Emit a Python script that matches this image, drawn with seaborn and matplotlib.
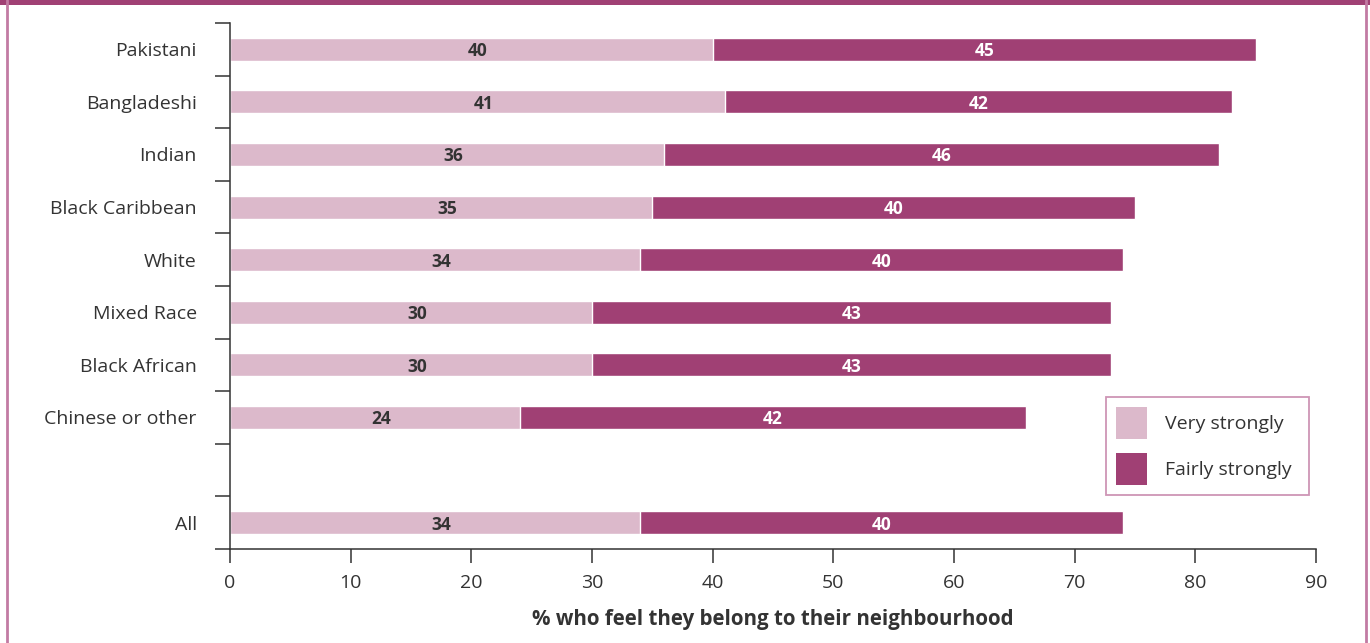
import matplotlib
matplotlib.use("Agg")
import matplotlib.pyplot as plt
import seaborn as sns
import pandas as pd
from matplotlib.patches import Rectangle, Patch
from matplotlib.lines import Line2D

# ---- data ----
categories = ["Pakistani", "Bangladeshi", "Indian", "Black Caribbean", "White",
              "Mixed Race", "Black African", "Chinese or other", "All"]
very_strongly = [40, 41, 36, 35, 34, 30, 30, 24, 34]
fairly_strongly = [45, 42, 46, 40, 40, 43, 43, 42, 40]
order = ["Pakistani", "Bangladeshi", "Indian", "Black Caribbean", "White",
         "Mixed Race", "Black African", "Chinese or other", " ", "All"]
xticks = [0, 10, 20, 30, 40, 50, 60, 70, 80, 90]
xlabel = "% who feel they belong to their neighbourhood"
legend_labels = ["Very strongly", "Fairly strongly"]

LIGHT = "#dcb9cb"
DARK = "#a04074"
FRAME_LIGHT = "#c27ba3"
TEXT = "#333333"

sns.set_theme(style="white")
plt.rcParams["font.family"] = ["Open Sans", "DejaVu Sans"]

df = pd.DataFrame({"cat": categories, "very": very_strongly, "fairly": fairly_strongly})
df["total"] = df["very"] + df["fairly"]

fig = plt.figure(figsize=(13.7, 6.43), dpi=100)
ax = fig.add_axes([230/1370, 1-549/643, (1316-230)/1370, (549-23)/643])

sns.barplot(data=df, y="cat", x="total", order=order, color=DARK, width=0.44,
            saturation=1, ax=ax, orient="h", errorbar=None)
sns.barplot(data=df, y="cat", x="very", order=order, color=LIGHT, width=0.44,
            saturation=1, ax=ax, orient="h", errorbar=None)

ax.set_xlim(0, 90)
ax.set_ylim(len(order) - 0.5, -0.5)
ax.set_xticks(xticks)
ax.set_xticklabels([str(t) for t in xticks], fontsize=14, color=TEXT)
ax.set_yticks(range(len(order)))
ax.set_yticklabels(order, fontsize=14, color=TEXT)
ax.set_yticks([i - 0.5 for i in range(len(order) + 1)], minor=True)
ax.tick_params(axis="y", which="major", left=True, length=0, pad=24)
ax.tick_params(axis="y", which="minor", left=True, length=11, width=1.1,
               color="#333333", direction="out")
ax.tick_params(axis="x", which="major", bottom=True, length=10, width=1.1,
               color="#333333", direction="out", pad=8)
ax.set_ylabel("")
ax.set_xlabel(xlabel, fontsize=14.8, fontweight="bold", color=TEXT, labelpad=12)

for s in ["top", "right"]:
    ax.spines[s].set_visible(False)
for s in ["left", "bottom"]:
    ax.spines[s].set_color("#333333")
    ax.spines[s].set_linewidth(1.1)

# value labels
for c, v, f in zip(categories, very_strongly, fairly_strongly):
    y = order.index(c)
    ax.text(v / 2 + 0.5, y, str(v), ha="center", va="center_baseline", fontsize=12.5,
            fontweight="bold", color=TEXT)
    ax.text(v + f / 2, y, str(f), ha="center", va="center_baseline", fontsize=12.5,
            fontweight="bold", color="white")

handles = [Patch(facecolor=LIGHT, edgecolor="none"), Patch(facecolor=DARK, edgecolor="none")]
leg = ax.legend(handles, legend_labels, loc="upper left", mode="expand",
                bbox_to_anchor=(1106/1370, 1-493/643, 203/1370, 96/643),
                bbox_transform=fig.transFigure,
                fontsize=14, frameon=True, fancybox=False, borderaxespad=0,
                handlelength=1.6, handleheight=2.15, handletextpad=0.95,
                labelspacing=0.75, borderpad=0.5)
leg.get_frame().set_edgecolor(FRAME_LIGHT)
leg.get_frame().set_linewidth(1.3)
for t in leg.get_texts():
    t.set_color(TEXT)

# frame decorations
fig.add_artist(Rectangle((0, 1-5/643), 1, 5/643, transform=fig.transFigure,
                         facecolor=DARK, edgecolor="none"))
fig.add_artist(Line2D([7/1370, 7/1370], [0, 1], transform=fig.transFigure,
                      color=FRAME_LIGHT, linewidth=2))
fig.add_artist(Line2D([1366/1370, 1366/1370], [0, 1], transform=fig.transFigure,
                      color=FRAME_LIGHT, linewidth=2))

fig.savefig("out.png", dpi=100)
